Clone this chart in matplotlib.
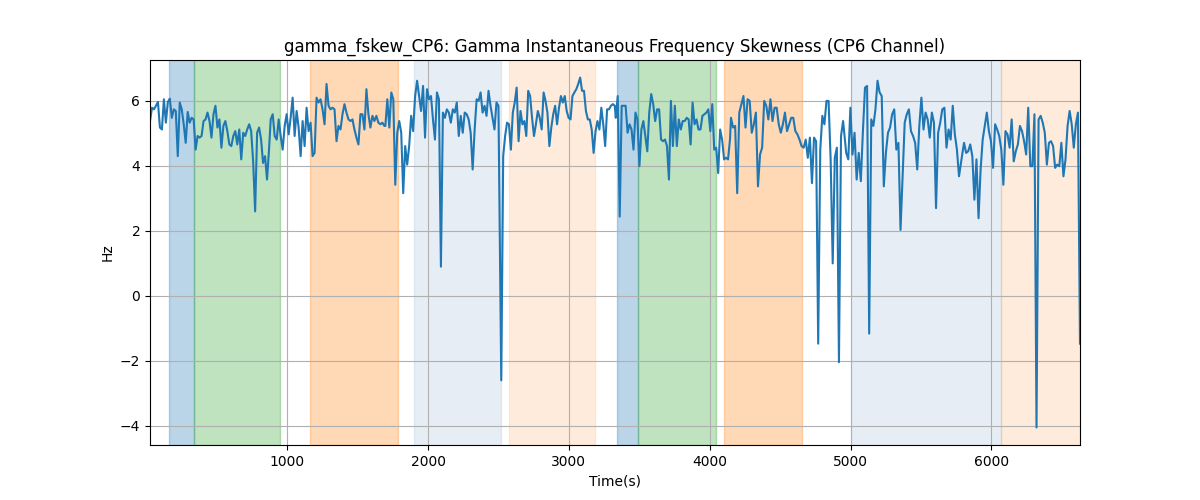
import numpy as np
import matplotlib
matplotlib.use("Agg")
import matplotlib.pyplot as plt

# skewness values, read left to right in eight stretches
seg_a = [5.38, 5.79, 5.74, 5.85, 5.97, 5.18, 5.12, 6.05, 5.33, 5.97, 6.07, 5.48, 5.74, 5.69, 4.3, 5.95,
         5.74, 5.28, 4.71, 5.66, 5.33, 5.48, 5.43, 4.5, 4.92, 4.87, 4.92, 5.38, 5.43, 5.64, 5.38, 4.87,
         5.59, 5.85, 5.18, 5.43, 4.56, 5.23, 5.38, 5.07, 4.66, 4.61, 4.92, 5.07, 4.66, 5.12, 4.2, 5.02,
         4.92, 5.12, 5.28, 5.07, 4.14, 2.6, 5.02, 5.18, 4.81, 4.09, 4.3, 3.58, 4.5]
seg_b = [5.43, 5.59, 4.92, 4.81, 5.43, 4.92, 4.5, 5.23, 5.59, 4.97, 5.48, 6.1, 4.92, 5.69, 5.18, 4.3,
         5.38, 4.61, 5.79, 5.07, 5.33, 4.3, 4.4, 6.1, 5.95, 6.05, 5.74, 5.28, 6.52, 5.85, 5.74, 5.79,
         5.74, 4.76, 5.23, 5.12, 5.59, 5.9, 5.64, 5.43, 5.38, 5.43, 5.12, 4.87, 4.66, 5.59, 5.59, 5.12,
         6.36, 5.59, 5.18, 5.54, 5.38, 5.54, 5.33, 5.28, 5.33, 5.23]
seg_c = [5.23, 6.05, 5.18, 6.26, 6.05, 3.42, 5.02, 5.38, 5.02, 3.16, 4.61, 4.04, 4.61, 5.54, 5.07, 6.15,
         6.62, 6.15, 5.69, 6.46, 4.87, 6.36, 6.05, 6.15, 5.43, 4.81, 6.26, 6.05, 0.9, 5.64, 5.48, 5.74,
         5.64, 5.33, 5.74, 5.64, 5.95, 4.92, 5.54, 5.02, 5.64, 5.59, 5.43, 5.02, 3.89, 5.12, 6.05, 6.0,
         6.26, 5.64, 5.85, 5.54, 6.31, 5.85, 5.48, 5.12, 5.95, 5.85]
seg_d = [-2.6, 4.3, 4.92, 5.33, 5.28, 4.5, 5.64, 5.95, 6.41, 4.76, 5.69, 5.28, 5.38, 4.92, 6.31, 6.15,
         5.48, 4.92, 5.28, 5.69, 5.48, 5.12, 6.26, 6.0, 5.64, 4.61, 5.18, 5.59, 5.85, 5.28, 5.79, 6.15,
         5.95, 6.15, 5.69, 5.48, 5.43, 6.15, 6.26, 6.36, 6.52, 6.72, 6.31, 6.31, 5.69, 5.43, 5.43, 5.12,
         4.4, 5.07, 5.38, 5.12, 5.79, 5.28, 4.61, 5.74, 5.74, 5.85, 5.9, 5.85]
seg_e = [5.48, 6.15, 2.44, 5.85, 5.85, 5.85, 5.02, 5.28, 5.12, 4.5, 5.64, 5.43, 3.99, 5.12, 5.38, 4.92,
         4.45, 5.64, 6.21, 5.9, 5.38, 5.74, 5.74, 4.81, 4.76, 4.81, 4.61, 3.58, 6.0, 4.61, 5.85, 4.61,
         5.43, 5.12, 5.38, 5.38, 5.48, 5.43, 4.66, 5.95, 5.28, 5.43, 5.12, 5.12, 5.54, 5.59, 5.64, 5.74,
         5.07, 5.9, 4.5, 4.56, 3.78, 5.12, 4.81, 4.2, 4.25, 4.2, 4.81]
seg_f = [5.48, 5.18, 5.23, 3.16, 5.64, 5.9, 6.15, 5.18, 6.05, 6.0, 5.02, 5.28, 5.64, 3.37, 4.35, 4.56,
         6.0, 5.85, 5.43, 6.05, 5.38, 5.79, 5.79, 5.28, 5.02, 5.28, 5.64, 5.07, 5.28, 5.48, 5.48, 5.07,
         4.97, 4.81, 4.61, 4.56, 4.81, 4.25, 4.87, 3.47, 4.87, 4.76, -1.47, 4.5, 5.54, 5.28, 6.0, 6.0,
         4.2, 1.0, 4.25, 4.56, -2.04, 4.92, 5.38]
seg_g = [4.4, 4.2, 5.79, 4.35, 5.02, 3.58, 4.4, 3.53, 5.07, 6.41, 6.46, -1.16, 5.43, 5.23, 5.74, 6.62,
         6.26, 6.15, 3.37, 4.4, 5.02, 5.18, 5.59, 5.74, 4.5, 4.71, 2.03, 3.68, 5.33, 5.59, 5.74, 5.07,
         4.92, 4.71, 3.89, 5.23, 6.1, 5.12, 5.64, 5.43, 4.87, 5.64, 5.33, 2.7, 5.02, 5.33, 5.74, 5.79,
         4.56, 5.12, 4.81, 5.85, 4.97, 4.5, 3.68]
seg_h = [4.3, 4.71, 4.4, 4.45, 4.66, 4.3, 2.96, 4.2, 2.39, 3.89, 4.81, 5.23, 5.64, 5.07, 4.76, 3.94,
         5.28, 5.12, 4.92, 4.5, 3.42, 5.07, 4.97, 4.56, 5.43, 4.14, 4.45, 4.66, 5.23, 5.07, 4.76, 4.35,
         5.79, 3.99, 3.99, 5.59, -4.05, 5.43, 5.54, 5.33, 5.02, 4.04, 4.71, 4.76, 4.61, 3.94, 4.04, 3.99,
         4.71, 3.68, 4.2, 5.23, 5.69, 5.28, 4.56, 5.28, 5.64, -1.47]
segments = [seg_a, seg_b, seg_c, seg_d, seg_e, seg_f, seg_g, seg_h]

# first and last sample time (s) of each stretch
seg_t0 = [26, 883, 1697, 2520, 3333, 4151, 4969, 5791]
seg_t1 = [871, 1690, 2500, 3326, 4144, 4947, 5770, 6629]

time_s = np.concatenate([np.linspace(a, b, len(s)) for a, b, s in zip(seg_t0, seg_t1, segments)])
fskew = np.concatenate(segments)

# labelled periods
span_start = [161, 341, 1163, 1900, 2578, 3345, 3490, 4099, 5006, 6067]
span_end = [341, 948, 1787, 2519, 3189, 3490, 4047, 4653, 6067, 6629]
span_color = ['tab:blue', 'tab:green', 'tab:orange', 'lightsteelblue', 'tab:orange',
              'tab:blue', 'tab:green', 'tab:orange', 'lightsteelblue', 'tab:orange']
span_alpha = [0.3, 0.3, 0.3, 0.3, 0.15, 0.3, 0.3, 0.3, 0.3, 0.15]

fig, ax = plt.subplots(figsize=(12, 5))
for s, e, c, a in zip(span_start, span_end, span_color, span_alpha):
    ax.axvspan(s, e, color=c, alpha=a)
ax.plot(time_s, fskew, color='tab:blue')
ax.set_xlim(time_s[0], time_s[-1])
ax.set_title('gamma_fskew_CP6: Gamma Instantaneous Frequency Skewness (CP6 Channel)')
ax.set_xlabel('Time(s)')
ax.set_ylabel('Hz')
ax.grid()

plt.savefig('out.png', dpi=100)
